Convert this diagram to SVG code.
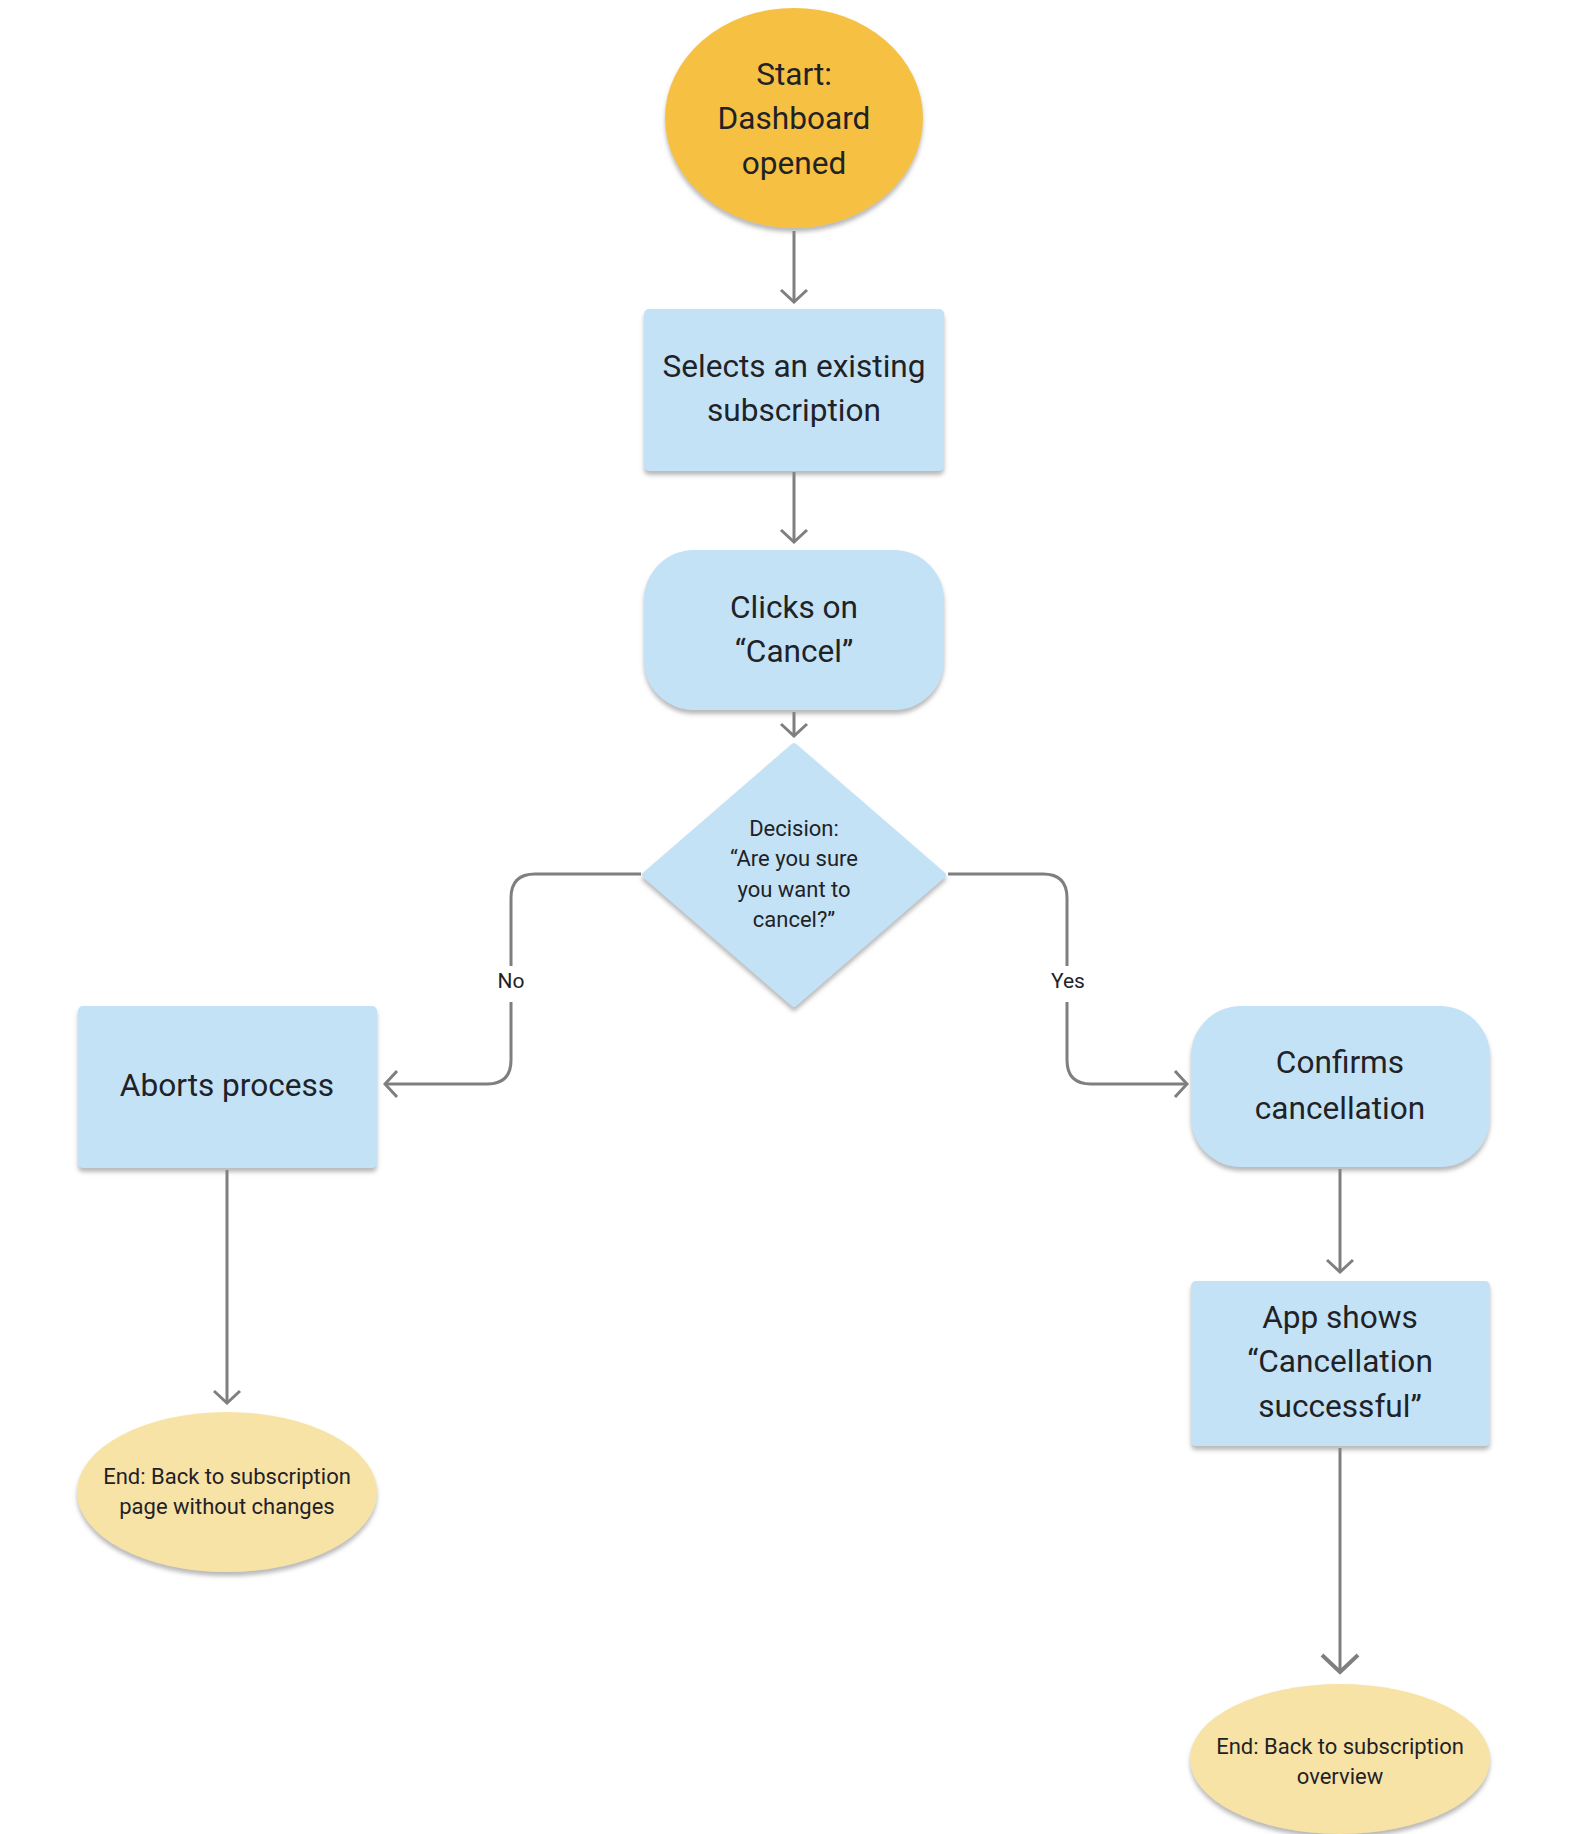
<svg xmlns="http://www.w3.org/2000/svg" width="1580" height="1834" viewBox="0 0 1580 1834">
<style>
.t{font-family:Roboto,"Liberation Sans",sans-serif;fill:#1f2226;text-anchor:middle}
.big{font-size:31.6px}
.sm{font-size:22px}
.lbl{font-size:21px}
.box{fill:#c4e2f6;filter:url(#sh)}
.term{fill:#f8e3a6;filter:url(#sh)}
.start{fill:#f6c143;filter:url(#sh)}
.c{fill:none;stroke:#7f7f7f;stroke-width:3}
</style>
<defs>
<filter id="sh" x="-10%" y="-10%" width="120%" height="130%">
<feDropShadow dx="0" dy="4" stdDeviation="2" flood-color="#8a8a8a" flood-opacity="0.6"/>
</filter>
<marker id="a" viewBox="0 0 16 30" refX="14" refY="15" markerWidth="16" markerHeight="30" orient="auto" markerUnits="userSpaceOnUse">
<path d="M2,2 L14,15 L2,28" fill="none" stroke="#7f7f7f" stroke-width="3"/>
</marker>
<marker id="aL" viewBox="0 0 22 40" refX="19" refY="20" markerWidth="22" markerHeight="40" orient="auto" markerUnits="userSpaceOnUse">
<path d="M2,2 L19,20 L2,38" fill="none" stroke="#7f7f7f" stroke-width="4"/>
</marker>
</defs>
<rect width="1580" height="1834" fill="#ffffff"/>
<g id="connectors">
<path class="c" d="M794,231 V302" marker-end="url(#a)"/>
<path class="c" d="M794,472 V542" marker-end="url(#a)"/>
<path class="c" d="M794,712 V736" marker-end="url(#a)"/>
<path class="c" d="M641,874 H535 Q511,874 511,898 V966"/>
<path class="c" d="M511,1002 V1060 Q511,1084 487,1084 H385" marker-end="url(#a)"/>
<path class="c" d="M948,874 H1043 Q1067,874 1067,898 V966"/>
<path class="c" d="M1067,1002 V1060 Q1067,1084 1091,1084 H1187" marker-end="url(#a)"/>
<path class="c" d="M227,1170 V1403" marker-end="url(#a)"/>
<path class="c" d="M1340,1169 V1272" marker-end="url(#a)"/>
<path class="c" d="M1340,1448 V1672" marker-end="url(#aL)" stroke-width="3.5"/>
<text class="t lbl" x="511" y="988">No</text>
<text class="t lbl" x="1068" y="988">Yes</text>
</g>
<g id="start">
<ellipse class="start" cx="794" cy="118" rx="129" ry="110"/>
<text class="t big" x="794" y="85">Start:</text>
<text class="t big" x="794" y="129">Dashboard</text>
<text class="t big" x="794" y="174">opened</text>
</g>
<g id="selects">
<rect class="box" x="644" y="309" width="300" height="162" rx="5"/>
<text class="t big" x="794" y="377">Selects an existing</text>
<text class="t big" x="794" y="421">subscription</text>
</g>
<g id="clicks">
<rect class="box" x="644" y="550" width="300" height="160" rx="50"/>
<text class="t big" x="794" y="618">Clicks on</text>
<text class="t big" x="794" y="662">“Cancel”</text>
</g>
<g id="decision">
<path class="box" d="M794,746 L943,875 L794,1004 L645,875 Z" stroke="#c4e2f6" stroke-width="6" stroke-linejoin="round"/>
<text class="t sm" x="794" y="836">Decision:</text>
<text class="t sm" x="794" y="866">“Are you sure</text>
<text class="t sm" x="794" y="897">you want to</text>
<text class="t sm" x="794" y="927">cancel?”</text>
</g>
<g id="aborts">
<rect class="box" x="78" y="1006" width="299" height="162" rx="5"/>
<text class="t big" x="227" y="1096">Aborts process</text>
</g>
<g id="confirms">
<rect class="box" x="1191" y="1006" width="299" height="161" rx="50"/>
<text class="t big" x="1340" y="1073">Confirms</text>
<text class="t big" x="1340" y="1119">cancellation</text>
</g>
<g id="appshows">
<rect class="box" x="1191" y="1281" width="299" height="165" rx="5"/>
<text class="t big" x="1340" y="1328">App shows</text>
<text class="t big" x="1340" y="1372">“Cancellation</text>
<text class="t big" x="1340" y="1417">successful”</text>
</g>
<g id="end-no">
<ellipse class="term" cx="227" cy="1492" rx="150" ry="80"/>
<text class="t sm" x="227" y="1484">End: Back to subscription</text>
<text class="t sm" x="227" y="1514">page without changes</text>
</g>
<g id="end-yes">
<ellipse class="term" cx="1340" cy="1759" rx="150" ry="75"/>
<text class="t sm" x="1340" y="1754">End: Back to subscription</text>
<text class="t sm" x="1340" y="1784">overview</text>
</g>
</svg>
